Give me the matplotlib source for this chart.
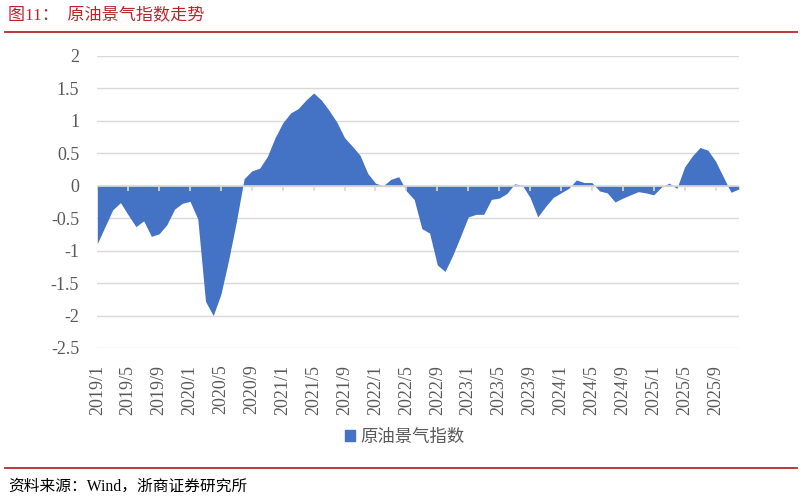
import matplotlib
matplotlib.use("Agg")
import matplotlib.pyplot as plt
from matplotlib.patches import Patch
from matplotlib.lines import Line2D

# ---- data ----
start_year = 2019
n_months = 84  # 2019/1 .. 2025/12
values = [
    -0.89, -0.63, -0.37, -0.26, -0.45, -0.63, -0.54, -0.78, -0.74, -0.60, -0.36, -0.27,   # 2019
    -0.24, -0.51, -1.78, -2.00, -1.67, -1.14, -0.55, 0.11, 0.23, 0.27, 0.45, 0.74,        # 2020
    0.97, 1.12, 1.19, 1.32, 1.43, 1.32, 1.16, 0.98, 0.74, 0.61, 0.47, 0.19,               # 2021
    0.04, 0.00, 0.10, 0.14, -0.08, -0.21, -0.66, -0.73, -1.22, -1.32, -1.07, -0.78,        # 2022
    -0.48, -0.44, -0.44, -0.21, -0.19, -0.12, 0.03, 0.01, -0.18, -0.48, -0.32, -0.18,      # 2023
    -0.11, -0.04, 0.09, 0.05, 0.05, -0.08, -0.11, -0.25, -0.19, -0.14, -0.09, -0.11,       # 2024
    -0.14, -0.02, 0.04, -0.04, 0.29, 0.46, 0.59, 0.55, 0.38, 0.14, -0.10, -0.05,           # 2025
]
dates = [f"{start_year + i // 12}/{i % 12 + 1}" for i in range(n_months)]
tick_step = 4
series_name = "原油景气指数"
title = "图11：  原油景气指数走势"
source = "资料来源：Wind，浙商证券研究所"
y_ticks = [2, 1.5, 1, 0.5, 0, -0.5, -1, -1.5, -2, -2.5]
y_labels = ["2", "1.5", "1", "0.5", "0", "-0.5", "-1", "-1.5", "-2", "-2.5"]

# ---- style ----
BLUE = "#4472C4"
GRID = "#D9D9D9"
TXT = "#595959"
RED = "#B8262B"
serif = ["Liberation Serif", "Noto Sans CJK SC"]
cjk = ["Noto Sans CJK SC", "DejaVu Sans"]

fig = plt.figure(figsize=(8.02, 5.0), dpi=100)
ax = fig.add_axes([97.3 / 802, 1 - 348 / 500, (738.7 - 97.3) / 802, 292 / 500])

x = list(range(n_months))
ax.fill_between(x, values, 0, color=BLUE, linewidth=0, zorder=2)

ax.set_xlim(0, n_months - 1)
ax.set_ylim(-2.5, 2)
ax.set_yticks(y_ticks)
ax.set_yticklabels(y_labels, family=serif, fontsize=13, color=TXT)
ax.tick_params(axis="y", length=0, pad=13)
ax.grid(axis="y", color=GRID, linewidth=1.0, zorder=0)
ax.set_axisbelow(True)

xt = x[::tick_step]
ax.set_xticks(xt)
ax.set_xticklabels(dates[::tick_step], rotation=90, family=serif, fontsize=13, color=TXT)
ax.tick_params(axis="x", length=0, pad=12)

for s in ax.spines.values():
    s.set_visible(False)

# category axis line at zero with outward tick marks
ax.axhline(0, color=GRID, linewidth=1.2, zorder=3)
ax.vlines(xt, -0.075, 0, color=GRID, linewidth=1.2, zorder=3)

# legend
handle = Patch(facecolor=BLUE, edgecolor=BLUE)
leg = fig.legend([handle], [series_name], loc="center", bbox_to_anchor=(0.505, 0.126),
                 frameon=False, handlelength=0.6, handleheight=0.6, handletextpad=0.3,
                 prop={"family": cjk, "size": 12.5})
for t in leg.get_texts():
    t.set_color(TXT)

# title and source with rules
fig.text(8 / 802, 1 - 15 / 500, title, family=serif, fontsize=12.3, color=RED,
         ha="left", va="center")
fig.add_artist(Line2D([5 / 802, 797 / 802], [1 - 31.5 / 500] * 2, color=RED, linewidth=1.3))
fig.add_artist(Line2D([5 / 802, 797 / 802], [1 - 468 / 500] * 2, color=RED, linewidth=1.3))
fig.text(8 / 802, 1 - 487 / 500, source, family=serif, fontsize=11.3, color="black",
         ha="left", va="center")

fig.savefig("out.png", dpi=100)
